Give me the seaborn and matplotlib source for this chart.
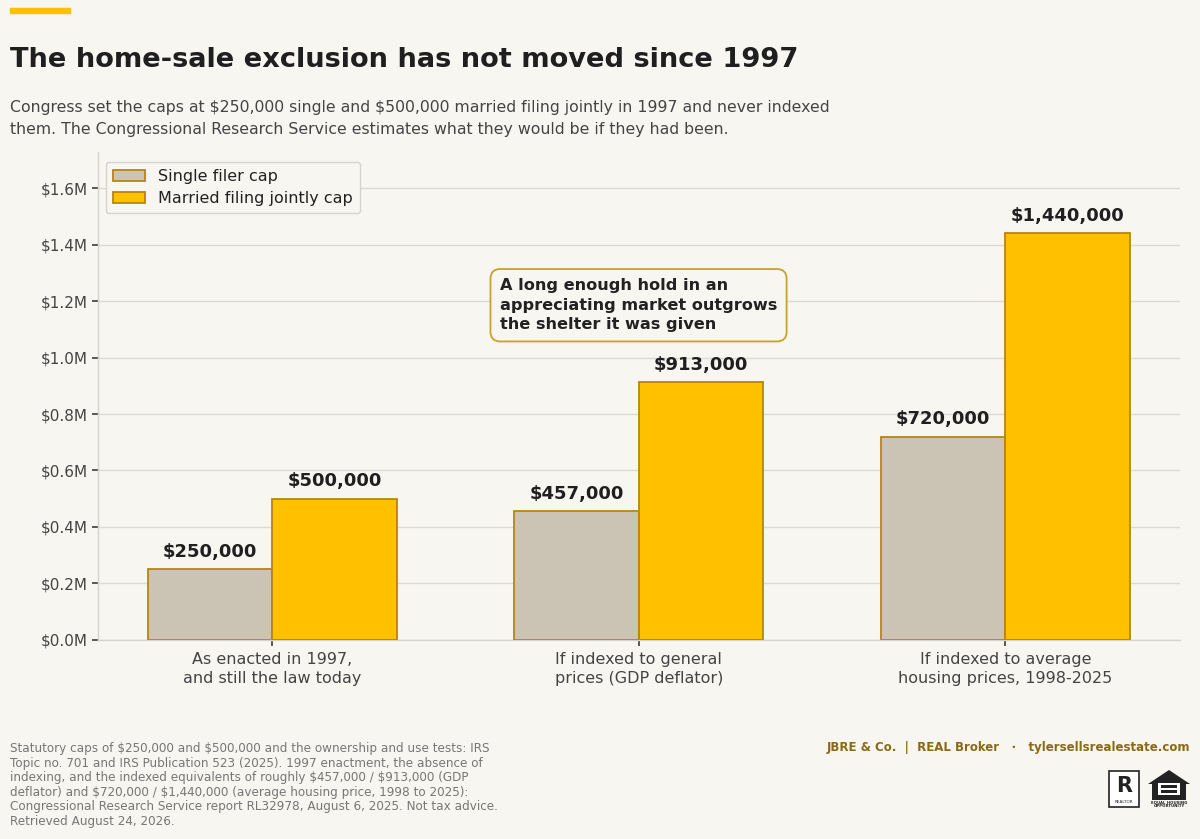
import numpy as np
import pandas as pd
import seaborn as sns
import matplotlib.pyplot as plt
import matplotlib.patches as patches
from matplotlib.ticker import FuncFormatter

# Data
scenarios = ["As enacted in 1997,\nand still the law today",
             "If indexed to general\nprices (GDP deflator)",
             "If indexed to average\nhousing prices, 1998-2025"]
single_cap = [250000, 457000, 720000]
married_cap = [500000, 913000, 1440000]
series_names = ["Single filer cap", "Married filing jointly cap"]

bg = "#F7F6F1"
col_single = "#CBC4B4"
col_married = "#FFC000"
edge = "#B8860B"

df = pd.DataFrame({
    "scenario": scenarios * 2,
    "value": single_cap + married_cap,
    "series": [series_names[0]] * 3 + [series_names[1]] * 3,
})

sns.set_theme(style="white")
plt.rcParams["font.family"] = ["DejaVu Sans"]

fig = plt.figure(figsize=(12, 8.39), dpi=100, facecolor=bg)
ax = fig.add_axes([0.0817, 0.2372, 0.9013, 0.5818])
ax.set_facecolor(bg)

sns.barplot(data=df, x="scenario", y="value", hue="series",
            palette=[col_single, col_married], saturation=1, width=0.68,
            edgecolor=edge, linewidth=1.3, ax=ax, zorder=3)

# value labels
for cont in ax.containers:
    ax.bar_label(cont, labels=[f"\\${v:,.0f}" for v in cont.datavalues],
                 padding=6, fontsize=13, fontweight="bold", color="#1F1F1F")

ax.set_xlim(-0.475, 2.475)
ax.set_ylim(0, 1728000)
ax.set_yticks(np.arange(0, 1600001, 200000))
ax.yaxis.set_major_formatter(FuncFormatter(lambda v, p: f"\\${v/1e6:.1f}M"))
ax.grid(axis="y", color="#DCDAD3", linewidth=1, zorder=0)
ax.set_axisbelow(True)
ax.set_xlabel("")
ax.set_ylabel("")
ax.tick_params(axis="y", labelsize=11, labelcolor="#444444", left=True,
               length=4, color="#444444")
ax.tick_params(axis="x", labelsize=11.5, labelcolor="#444444", bottom=True,
               length=4, color="#444444", pad=5)
for t in ax.get_xticklabels():
    t.set_linespacing(1.3)
for s in ["top", "right"]:
    ax.spines[s].set_visible(False)
for s in ["left", "bottom"]:
    ax.spines[s].set_color("#D5D3CC")
    ax.spines[s].set_linewidth(1)

leg = ax.legend(loc="upper left", bbox_to_anchor=(0.0, 0.995), fontsize=11.5,
                frameon=True, facecolor=bg, edgecolor="#D5D3CC",
                handlelength=2.0, borderpad=0.45, labelspacing=0.4)
leg.get_frame().set_alpha(1)
for t in leg.get_texts():
    t.set_color("#222222")

ax.text(0.621, 1280000,
        "A long enough hold in an\nappreciating market outgrows\nthe shelter it was given",
        ha="left", va="top", fontsize=11.65, fontweight="bold", color="#222222",
        linespacing=1.36, zorder=5,
        bbox=dict(boxstyle="round,pad=0.58,rounding_size=0.6", fc=bg,
                  ec="#C9A227", lw=1.3))

# header
fig.add_artist(patches.Rectangle((10 / 1200, 1 - 13 / 839), 60 / 1200, 5 / 839,
                                 transform=fig.transFigure, color=col_married))
fig.text(10 / 1200, 1 - 60 / 839, "The home-sale exclusion has not moved since 1997",
         fontsize=19.6, fontweight="bold", color="#1F1F1F", va="center", ha="left")
fig.text(10 / 1200, 1 - 100 / 839,
         "Congress set the caps at \\$250,000 single and \\$500,000 married filing jointly in 1997 and never indexed\n"
         "them. The Congressional Research Service estimates what they would be if they had been.",
         fontsize=11.3, color="#444444", va="top", ha="left", linespacing=1.62)

# footer
fig.text(10 / 1200, 1 - 742 / 839,
         "Statutory caps of \\$250,000 and \\$500,000 and the ownership and use tests: IRS\n"
         "Topic no. 701 and IRS Publication 523 (2025). 1997 enactment, the absence of\n"
         "indexing, and the indexed equivalents of roughly \\$457,000 / \\$913,000 (GDP\n"
         "deflator) and \\$720,000 / \\$1,440,000 (average housing price, 1998 to 2025):\n"
         "Congressional Research Service report RL32978, August 6, 2025. Not tax advice.\n"
         "Retrieved August 24, 2026.",
         fontsize=8.65, color="#777777", va="top", ha="left", linespacing=1.16)
fig.text(1190 / 1200, 1 - 748 / 839,
         "JBRE & Co.  |  REAL Broker   \u00b7   tylersellsrealestate.com",
         fontsize=8.5, fontweight="bold", color="#8B6914", va="center", ha="right")

# small logos
fig.add_artist(patches.Rectangle((1109 / 1200, 1 - 807 / 839), 30 / 1200, 36 / 839,
                                 transform=fig.transFigure, fc="white", ec="#222222", lw=1.2))
fig.text(1124 / 1200, 1 - 786 / 839, "R", fontsize=15, fontweight="bold",
         color="#222222", ha="center", va="center")
fig.text(1124 / 1200, 1 - 802 / 839, "REALTOR", fontsize=3, color="#222222",
         ha="center", va="center")
house = patches.Polygon([(1148 / 1200, 1 - 784 / 839), (1169 / 1200, 1 - 770 / 839),
                         (1190 / 1200, 1 - 784 / 839), (1186 / 1200, 1 - 784 / 839),
                         (1186 / 1200, 1 - 800 / 839), (1152 / 1200, 1 - 800 / 839),
                         (1152 / 1200, 1 - 784 / 839)],
                        closed=True, transform=fig.transFigure, fc="#222222", ec="none")
fig.add_artist(house)
fig.add_artist(patches.Rectangle((1158 / 1200, 1 - 795 / 839), 22 / 1200, 12 / 839,
                                 transform=fig.transFigure, fc="white", ec="none"))
fig.add_artist(patches.Rectangle((1161 / 1200, 1 - 788 / 839), 16 / 1200, 3 / 839,
                                 transform=fig.transFigure, fc="#222222", ec="none"))
fig.add_artist(patches.Rectangle((1161 / 1200, 1 - 793 / 839), 16 / 1200, 3 / 839,
                                 transform=fig.transFigure, fc="#222222", ec="none"))
fig.text(1169 / 1200, 1 - 804 / 839, "EQUAL HOUSING\nOPPORTUNITY", fontsize=2.8,
         fontweight="bold", color="#222222", ha="center", va="center", linespacing=1.0)

fig.savefig("out.png", dpi=100, facecolor=bg)
